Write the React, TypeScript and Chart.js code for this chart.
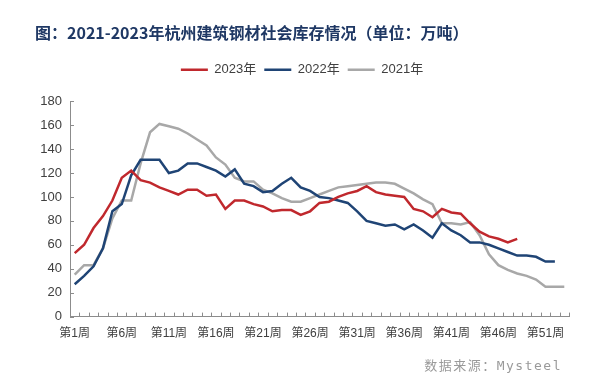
import React, { useEffect, useRef } from "react";
import { Chart, registerables } from "chart.js";

Chart.register(...registerables);

// Week categories 第1周 … 第53周
const weeks: string[] = Array.from({ length: 53 }, (_, i) => `第${i + 1}周`);

const yTicks = [0, 20, 40, 60, 80, 100, 120, 140, 160, 180];

const series2023: number[] = [
  53, 60, 74, 84, 97, 116, 122, 114, 112, 108, 105, 102, 106, 106, 101, 102, 90, 97,
  97, 94, 92, 88, 89, 89, 85, 88, 95, 96, 100, 103, 105, 109, 104, 102, 101, 100,
  90, 88, 83, 90, 87, 86, 78, 71, 67, 65, 62, 65,
];

const series2022: number[] = [
  27, 34, 42, 57, 88, 94, 118, 131, 131, 131, 120, 122, 128, 128, 125, 122, 117, 123,
  111, 109, 104, 105, 111, 116, 108, 105, 100, 99, 97, 95, 88, 80, 78, 76, 77, 73,
  77, 72, 66, 78, 72, 68, 62, 62, 60, 57, 54, 51, 51, 50, 46, 46,
];

const series2021: number[] = [
  35, 43, 43, 57, 82, 97, 97, 128, 154, 161, 159, 157, 153, 148, 143, 133, 127, 116,
  113, 113, 106, 103, 99, 96, 96, 99, 102, 105, 108, 109, 110, 111, 112, 112, 111, 107,
  103, 98, 94, 78, 78, 77, 79, 68, 52, 43, 39, 36, 34, 31, 25, 25, 25,
];

const seriesNames = ["2023年", "2022年", "2021年"];
const seriesColors = ["#C0282D", "#1F4475", "#A8A8A8"];

const innerTicks = {
  id: "innerTicks",
  afterDraw(chart: any) {
    const { ctx } = chart;
    const x = chart.scales.x;
    const y = chart.scales.y;
    ctx.save();
    ctx.strokeStyle = "#8c8c8c";
    ctx.lineWidth = 1;
    ctx.beginPath();
    const step = x.getPixelForValue(1) - x.getPixelForValue(0);
    for (let i = 0; i <= weeks.length; i++) {
      const px = Math.round(x.getPixelForValue(i) - step / 2) + 0.5;
      ctx.moveTo(px, y.bottom);
      ctx.lineTo(px, y.bottom - 4);
    }
    for (const t of y.ticks) {
      const py = Math.round(y.getPixelForValue(t.value)) + 0.5;
      ctx.moveTo(x.left, py);
      ctx.lineTo(x.left + 4, py);
    }
    ctx.stroke();
    ctx.restore();
  },
};

const legendSpacer = {
  id: "legendSpacer",
  beforeInit(chart: any) {
    const legend = chart.legend;
    if (!legend) return;
    const orig = legend.fit;
    legend.fit = function fit() {
      orig.bind(legend)();
      this.height += 15;
    };
  },
};

export default function App() {
  const ref = useRef<HTMLCanvasElement | null>(null);

  useEffect(() => {
    if (!ref.current) return;
    const font = "'Liberation Sans', Arial, 'Noto Sans CJK SC', sans-serif";
    const data = [series2023, series2022, series2021];
    const chart = new Chart(ref.current, {
      type: "line",
      data: {
        labels: weeks,
        datasets: data.map((d, i) => ({
          label: seriesNames[i],
          data: d,
          borderColor: seriesColors[i],
          backgroundColor: seriesColors[i],
          borderWidth: 2.5,
          pointRadius: 0,
          tension: 0,
          fill: false,
        })),
      },
      options: {
        responsive: false,
        animation: false,
        devicePixelRatio: 1,
        layout: { padding: { left: 35, right: 31, top: 0, bottom: 31 } },
        plugins: {
          title: {
            display: true,
            text: "图：2021-2023年杭州建筑钢材社会库存情况（单位：万吨）",
            align: "start",
            color: "#1F3864",
            font: { family: "'Noto Sans CJK SC', sans-serif", size: 16, weight: "bold" },
            padding: { top: 23, bottom: 13 },
          },
          legend: {
            display: true,
            position: "top",
            labels: {
              usePointStyle: true,
              pointStyle: "line",
              pointStyleWidth: 27,
              color: "#404040",
              font: { family: font, size: 13 },
              padding: 8,
            },
          },
          tooltip: { enabled: false },
        },
        scales: {
          x: {
            type: "category",
            offset: true,
            grid: { display: false, drawTicks: false },
            border: { display: true, color: "#8c8c8c", width: 1 },
            ticks: {
              autoSkip: false,
              maxRotation: 0,
              minRotation: 0,
              padding: 10,
              color: "#404040",
              font: { family: font, size: 12 },
              callback: function (this: any, value: any, index: number) {
                return index % 5 === 0 ? this.getLabelForValue(value) : "";
              },
            },
          },
          y: {
            min: 0,
            max: 180,
            afterFit(scale: any) {
              scale.width = 35;
            },
            afterBuildTicks(scale: any) {
              scale.ticks = yTicks.map((v) => ({ value: v }));
            },
            grid: { display: false, drawTicks: false },
            border: { display: true, color: "#8c8c8c", width: 1 },
            ticks: {
              padding: 8,
              color: "#404040",
              font: { family: font, size: 13 },
            },
          },
        },
      },
      plugins: [innerTicks, legendSpacer],
    });
    return () => chart.destroy();
  }, []);

  return (
    <div
      style={{
        position: "fixed",
        left: 0,
        top: 0,
        width: 600,
        height: 382,
        background: "#ffffff",
        overflow: "hidden",
      }}
    >
      <canvas ref={ref} width={600} height={382} style={{ display: "block" }} />
      <div
        style={{
          position: "absolute",
          right: 38,
          top: 355,
          fontFamily: "'DejaVu Sans Mono', 'Noto Sans CJK SC', monospace",
          fontSize: 13,
          letterSpacing: 1.5,
          color: "#9a9a9a",
          whiteSpace: "nowrap",
        }}
      >
        数据来源：Mysteel
      </div>
    </div>
  );
}
